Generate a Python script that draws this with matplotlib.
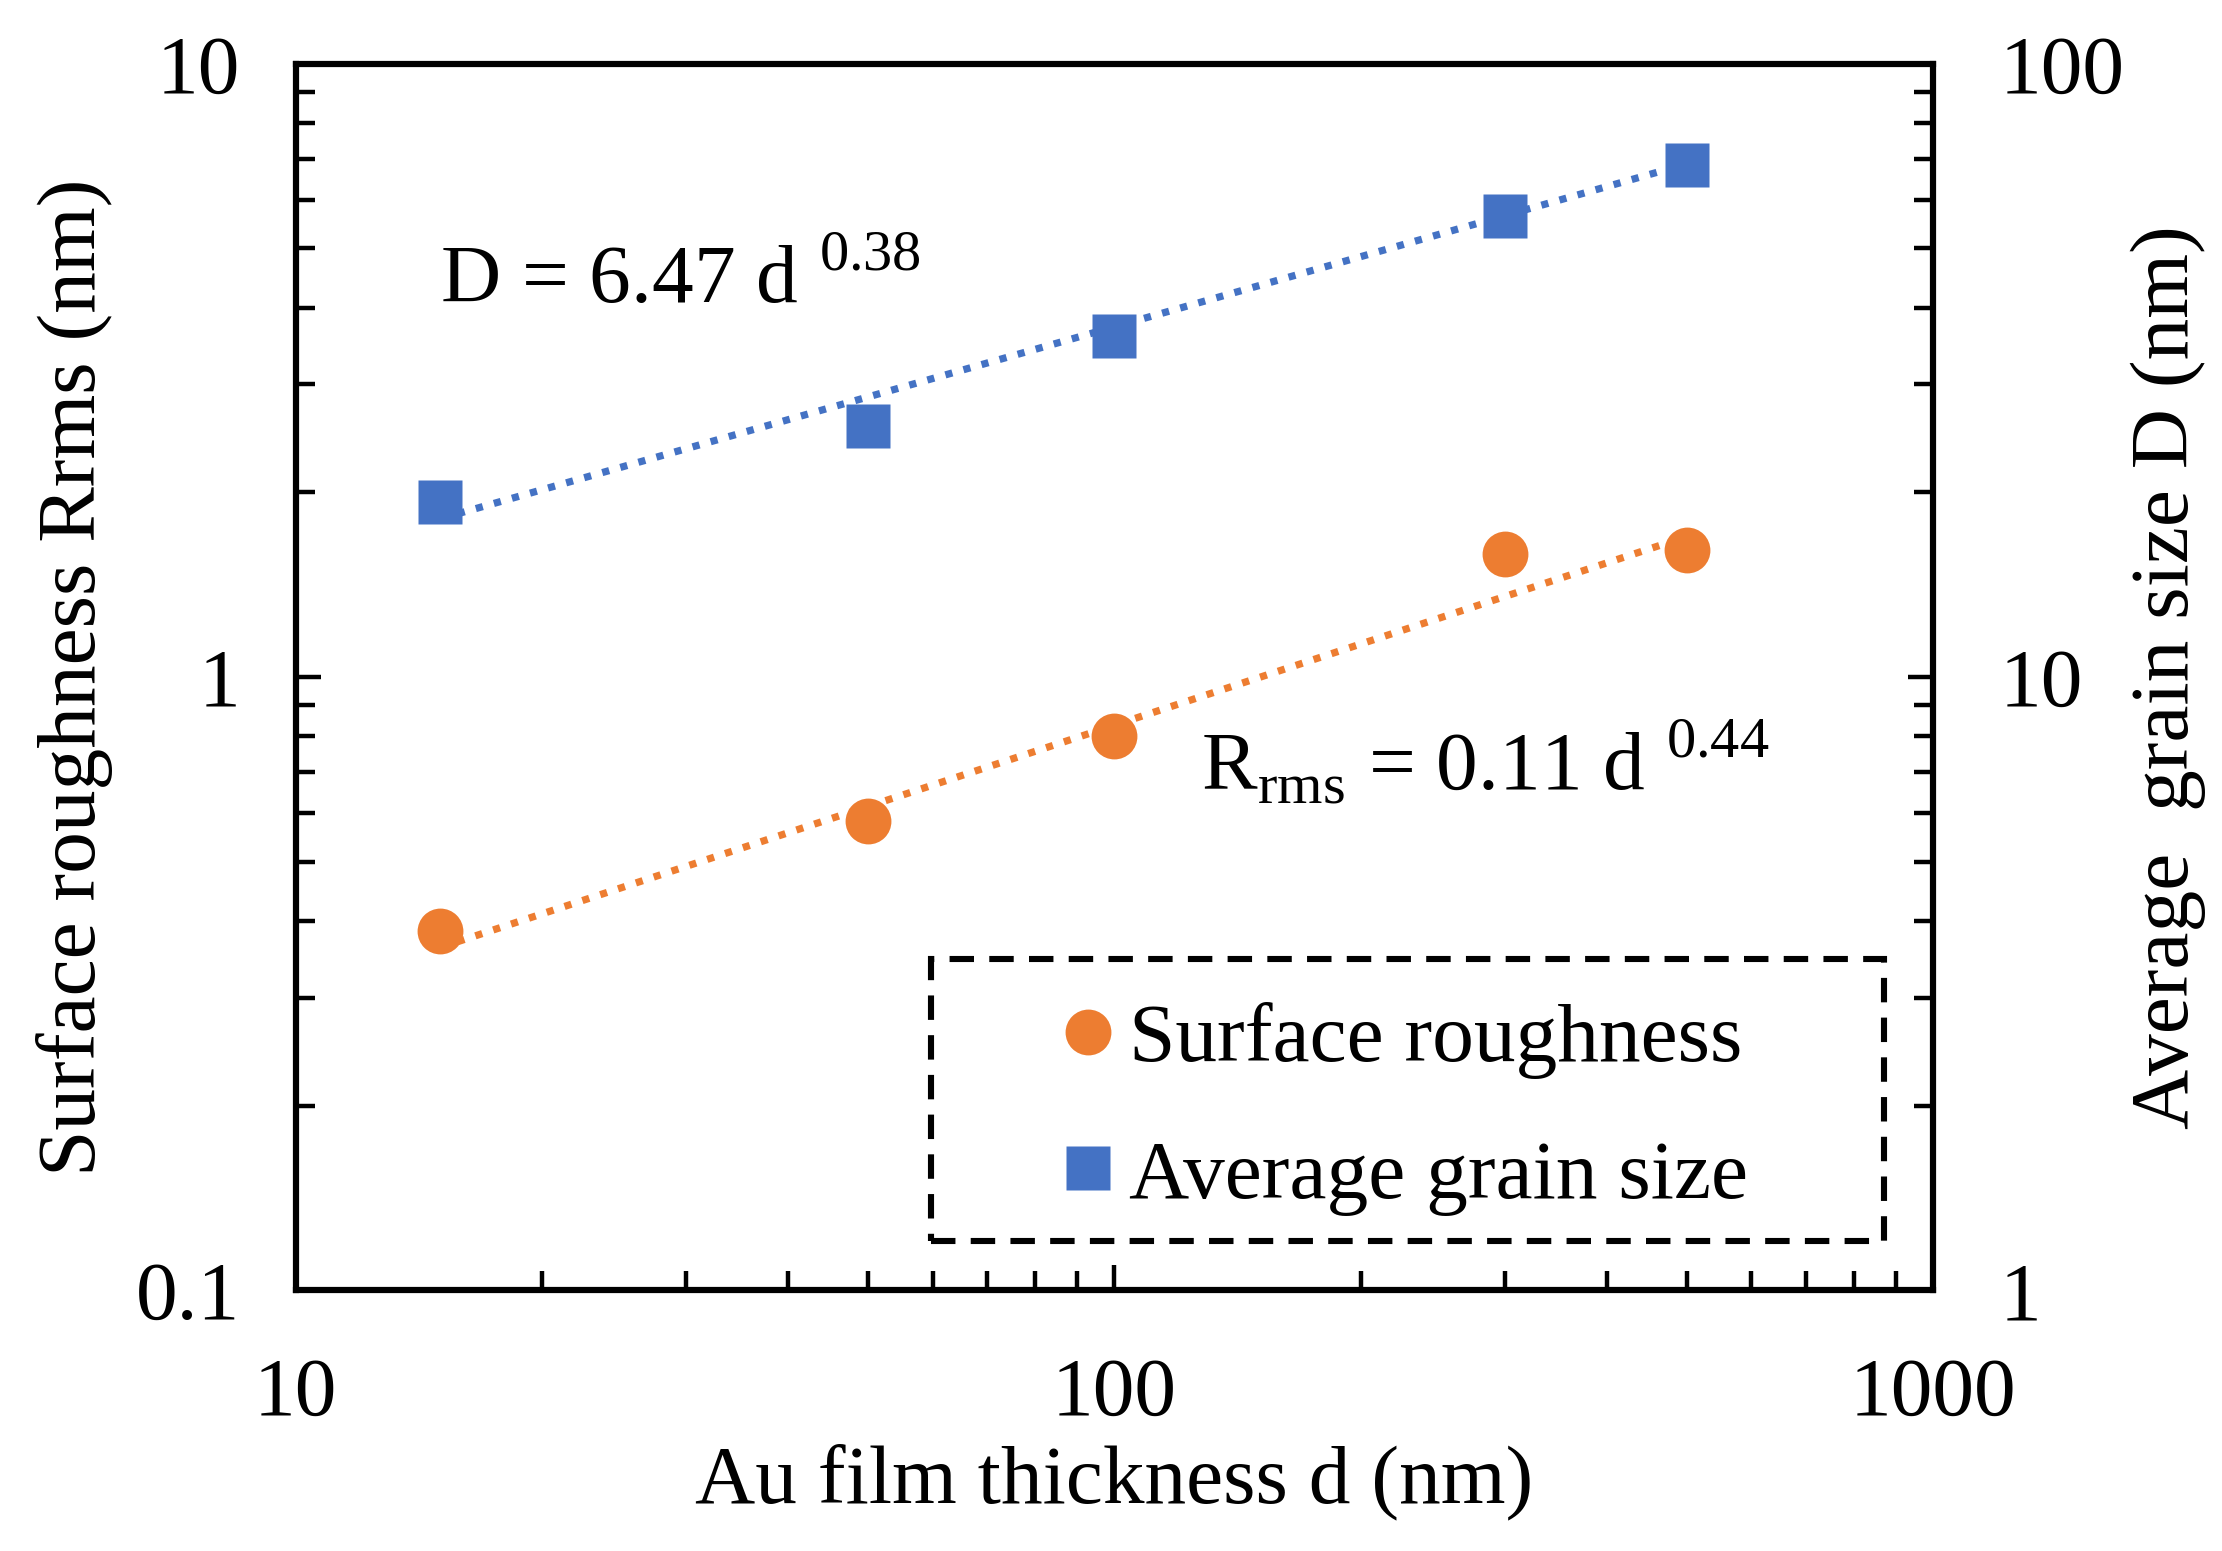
import matplotlib
matplotlib.use("Agg")
import matplotlib.pyplot as plt
from matplotlib.patches import Rectangle
from matplotlib.ticker import LogLocator, NullFormatter, FixedLocator, FixedFormatter
import numpy as np

plt.rcParams['font.family'] = ['Liberation Serif', 'DejaVu Serif']
plt.rcParams['mathtext.fontset'] = 'custom'
plt.rcParams['mathtext.rm'] = 'Liberation Serif'

# data
thickness = np.array([15, 50, 100, 300, 500])           # d (nm)
roughness = np.array([0.386, 0.582, 0.80, 1.585, 1.61])  # Rrms (nm)
grain_size = np.array([19.3, 25.7, 36.0, 56.5, 68.3])    # D (nm)

# power-law fits shown on the chart
fit_D = (6.47, 0.38)
fit_R = (0.11, 0.44)

orange = "#ED7D31"
blue = "#4472C4"
fs = 30

fig, ax = plt.subplots(figsize=(11.11, 7.755), dpi=200)
fig.subplots_adjust(left=0.133, right=0.870, bottom=0.168, top=0.959)
ax2 = ax.twinx()

ax.plot(thickness, fit_R[0] * thickness ** fit_R[1], linestyle=(0, (1, 1.6)),
        color=orange, lw=2.6, zorder=2)
h1, = ax.plot(thickness, roughness, 'o', color=orange, ms=16.5, mec='none',
              label="Surface roughness", zorder=3)
ax2.plot(thickness, fit_D[0] * thickness ** fit_D[1], linestyle=(0, (1, 1.6)),
         color=blue, lw=2.6, zorder=2)
h2, = ax2.plot(thickness, grain_size, 's', color=blue, ms=16, mec='none',
               label="Average grain size", zorder=3)

ax.set_xscale('log')
ax.set_yscale('log')
ax2.set_yscale('log')
ax.set_xlim(10, 1000)
ax.set_ylim(0.1, 10)
ax2.set_ylim(1, 100)

ax.xaxis.set_major_locator(FixedLocator([10, 100, 1000]))
ax.xaxis.set_major_formatter(FixedFormatter(["10", "100", "1000"]))
ax.xaxis.set_minor_locator(LogLocator(base=10, subs=np.arange(2, 10)))
ax.xaxis.set_minor_formatter(NullFormatter())
ax.yaxis.set_major_locator(FixedLocator([0.1, 1, 10]))
ax.yaxis.set_major_formatter(FixedFormatter(["0.1", "1", "10"]))
ax.yaxis.set_minor_locator(LogLocator(base=10, subs=np.arange(2, 10)))
ax.yaxis.set_minor_formatter(NullFormatter())
ax2.yaxis.set_major_locator(FixedLocator([1, 10, 100]))
ax2.yaxis.set_major_formatter(FixedFormatter(["1", "10", "100"]))
ax2.yaxis.set_minor_locator(LogLocator(base=10, subs=np.arange(2, 10)))
ax2.yaxis.set_minor_formatter(NullFormatter())

ax.tick_params(axis='x', which='both', direction='in', top=False, labelsize=fs, pad=24)
ax.tick_params(axis='y', which='both', direction='in', right=False, labelsize=fs, pad=20)
ax2.tick_params(axis='y', which='both', direction='in', labelsize=fs, pad=24)
for a in (ax, ax2):
    a.tick_params(which='major', length=9, width=1.6)
    a.tick_params(which='minor', length=7, width=1.6)
    for s in a.spines.values():
        s.set_linewidth(2.2)

ax.set_xlabel("Au film thickness d (nm)", fontsize=fs, labelpad=4)
ax.set_ylabel("Surface roughness Rrms (nm)", fontsize=fs, labelpad=8)
ax2.set_ylabel("Average  grain size D (nm)", fontsize=fs, rotation=90, labelpad=2)

ax.text(0.088, 0.805, r"D = 6.47 d $^{\mathregular{0.38}}$", transform=ax.transAxes,
        fontsize=fs, va='baseline', ha='left')
ax.text(0.553, 0.408, r"R$_{\mathregular{rms}}$ = 0.11 d $^{\mathregular{0.44}}$",
        transform=ax.transAxes, fontsize=fs, va='baseline', ha='left')

# dashed legend box
ax2.add_patch(Rectangle((0.388, 0.040), 0.582, 0.230, transform=ax.transAxes,
                        fill=False, ec='black', lw=2.2, ls=(0, (4, 2.5)), zorder=4))
ax2.legend(handles=[h1, h2], loc='center left', bbox_to_anchor=(0.438, 0.148),
           frameon=False, fontsize=fs, handletextpad=0.0, handlelength=1.0,
           labelspacing=0.72, borderaxespad=0)

plt.savefig("out.png", dpi=200)
